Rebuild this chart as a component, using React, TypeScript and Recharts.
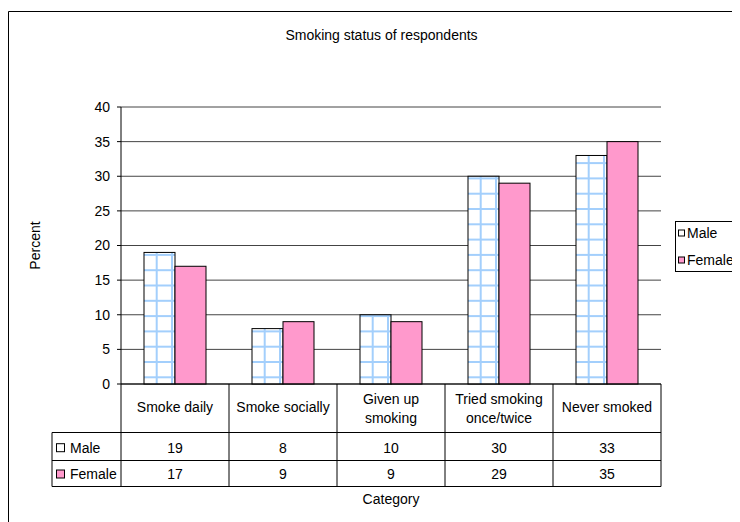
import React from "react";
import {
  BarChart,
  Bar,
  XAxis,
  YAxis,
  CartesianGrid,
  Customized,
  Label,
} from "recharts";

// ---- data ----
const CATEGORIES = [
  "Smoke daily",
  "Smoke socially",
  "Given up\nsmoking",
  "Tried smoking\nonce/twice",
  "Never smoked",
];
const MALE = [19, 8, 10, 30, 33];
const FEMALE = [17, 9, 9, 29, 35];
const Y_TICKS = [0, 5, 10, 15, 20, 25, 30, 35, 40];
const SERIES = [
  { key: "male", name: "Male", fill: "#ffffff" },
  { key: "female", name: "Female", fill: "#ff99cc" },
];
const TITLE = "Smoking status of respondents";
const X_TITLE = "Category";
const Y_TITLE = "Percent";

const data = CATEGORIES.map((category, i) => ({
  category,
  male: MALE[i],
  female: FEMALE[i],
}));
const VALUES: Record<string, number[]> = { male: MALE, female: FEMALE };

// ---- layout ----
const W = 732;
const H = 514;
const MARGIN = { top: 99, right: 79, bottom: 36, left: 0 };
const Y_AXIS_W = 113;
const X_AXIS_H = 102;
const PLOT_W = W - MARGIN.left - Y_AXIS_W - MARGIN.right;
const HALF_BAND = PLOT_W / CATEGORIES.length / 2;
const FONT = "'Liberation Sans', Arial, sans-serif";
const GRID_BLUE = "#a3cffc";

// table rows below the axis, offsets from the axis line
const ROW_HEADER_BOTTOM = 48.5;
const ROW_MALE_BOTTOM = 76.5;
const ROW_FEMALE_BOTTOM = 102.5;
const ROW_CENTERS = [63.7, 90];
const TABLE_LEFT = 44;

// white bar with light-blue check grid
function CheckBar(props: any) {
  const { x, y, width, height } = props;
  if (!height || height <= 0) return null;
  const bottom = y + height;
  const lines: React.ReactNode[] = [];
  for (let vx = x + 12.7; vx < x + width - 1; vx += 15.3) {
    lines.push(
      <line key={"v" + vx} x1={vx} x2={vx} y1={y} y2={bottom} stroke={GRID_BLUE} strokeWidth={2} />
    );
  }
  for (let hy = bottom - 6.7; hy > y + 1; hy -= 15.3) {
    lines.push(
      <line key={"h" + hy} x1={x} x2={x + width} y1={hy} y2={hy} stroke={GRID_BLUE} strokeWidth={2} />
    );
  }
  return (
    <g>
      <rect x={x} y={y} width={width} height={height} fill="#fff" />
      {lines}
      <rect x={x} y={y} width={width} height={height} fill="none" stroke="#000" strokeWidth={1} />
    </g>
  );
}

function PinkBar(props: any) {
  const { x, y, width, height } = props;
  if (!height || height <= 0) return null;
  return <rect x={x} y={y} width={width} height={height} fill="#ff99cc" stroke="#000" strokeWidth={1} />;
}

// category cell plus the value cells of the data table
function TableTick(props: any) {
  const { x, y, payload } = props;
  const i: number = payload.index ?? props.index ?? 0;
  const label: string = payload.value;
  const parts = label.split("\n");
  const left = x - HALF_BAND;
  const right = x + HALF_BAND;
  const lineProps = { stroke: "#000", strokeWidth: 1 };
  return (
    <g>
      <line x1={right} x2={right} y1={y} y2={y + ROW_FEMALE_BOTTOM} {...lineProps} />
      {i === 0 && (
        <g>
          <line x1={left} x2={left} y1={y} y2={y + ROW_FEMALE_BOTTOM} {...lineProps} />
          <line x1={TABLE_LEFT} x2={TABLE_LEFT} y1={y + ROW_HEADER_BOTTOM} y2={y + ROW_FEMALE_BOTTOM} {...lineProps} />
          {[ROW_HEADER_BOTTOM, ROW_MALE_BOTTOM, ROW_FEMALE_BOTTOM].map((r) => (
            <line key={r} x1={TABLE_LEFT} x2={left} y1={y + r} y2={y + r} {...lineProps} />
          ))}
          {SERIES.map((s, k) => (
            <g key={s.key}>
              <rect
                x={TABLE_LEFT + 4.5}
                y={y + ROW_CENTERS[k] - 4}
                width={8}
                height={8}
                fill={s.fill}
                stroke="#000"
              />
              <text
                x={TABLE_LEFT + 18}
                y={y + ROW_CENTERS[k]}
                fontSize={14}
                fill="#000"
                dominantBaseline="central"
              >
                {s.name}
              </text>
            </g>
          ))}
        </g>
      )}
      {[ROW_HEADER_BOTTOM, ROW_MALE_BOTTOM, ROW_FEMALE_BOTTOM].map((r) => (
        <line key={r} x1={left} x2={right} y1={y + r} y2={y + r} {...lineProps} />
      ))}
      {parts.map((p, k) => (
        <text
          key={k}
          x={x}
          y={y + (parts.length === 1 ? 23.3 : 15.3 + k * 19)}
          fontSize={14}
          fill="#000"
          textAnchor="middle"
          dominantBaseline="central"
        >
          {p}
        </text>
      ))}
      {SERIES.map((s, k) => (
        <text
          key={s.key}
          x={x}
          y={y + ROW_CENTERS[k]}
          fontSize={14}
          fill="#000"
          textAnchor="middle"
          dominantBaseline="central"
        >
          {VALUES[s.key][i]}
        </text>
      ))}
    </g>
  );
}

// frame, title and legend
function Decorations() {
  return (
    <g>
      <path d={`M0.5,${H} V3.5 H${W + 20}`} fill="none" stroke="#000" strokeWidth={1} />
      <text x={373.5} y={27.3} fontSize={14} fill="#000" textAnchor="middle" dominantBaseline="central">
        {TITLE}
      </text>
      <rect x={667.5} y={213.5} width={63} height={50} fill="#fff" stroke="#000" strokeWidth={1} />
      {SERIES.map((s, k) => (
        <g key={s.key}>
          <rect x={670.5} y={222 + k * 27} width={6} height={6} fill={s.fill} stroke="#000" />
          <text x={679} y={225 + k * 27} fontSize={14} fill="#000" dominantBaseline="central">
            {s.name}
          </text>
        </g>
      ))}
    </g>
  );
}

function PercentLabel(p: any) {
  const vb = p.viewBox || {};
  const cy = vb.y !== undefined && vb.height !== undefined ? vb.y + vb.height / 2 : MARGIN.top + 138.5;
  const cx = 27;
  return (
    <text
      x={cx}
      y={cy}
      transform={`rotate(-90, ${cx}, ${cy})`}
      fontSize={14}
      fill="#000"
      textAnchor="middle"
      dominantBaseline="central"
    >
      {Y_TITLE}
    </text>
  );
}

export default function App() {
  return (
    <div style={{ width: W, height: H, fontFamily: FONT, background: "#fff" }}>
      <BarChart
        width={W}
        height={H}
        data={data}
        margin={MARGIN}
        barSize={31}
        barGap={0}
        style={{ fontFamily: FONT }}
      >
        <Customized component={<Decorations />} />
        <CartesianGrid vertical={false} stroke="#444" strokeWidth={1} />
        <XAxis
          dataKey="category"
          height={X_AXIS_H}
          axisLine={{ stroke: "#000" }}
          tickLine={false}
          tickSize={0}
          tickMargin={0}
          interval={0}
          tick={<TableTick />}
          label={{ value: X_TITLE, position: "bottom", offset: 8, fill: "#000", fontSize: 14 }}
        />
        <YAxis
          width={Y_AXIS_W}
          domain={[0, 40]}
          ticks={Y_TICKS}
          interval={0}
          axisLine={{ stroke: "#000" }}
          tickLine={{ stroke: "#000" }}
          tickSize={4}
          tickMargin={7}
          tick={{ fill: "#000", fontSize: 14 }}
        >
          <Label content={<PercentLabel />} />
        </YAxis>
        <Bar dataKey="male" name="Male" shape={<CheckBar />} isAnimationActive={false} />
        <Bar dataKey="female" name="Female" shape={<PinkBar />} isAnimationActive={false} />
      </BarChart>
    </div>
  );
}
